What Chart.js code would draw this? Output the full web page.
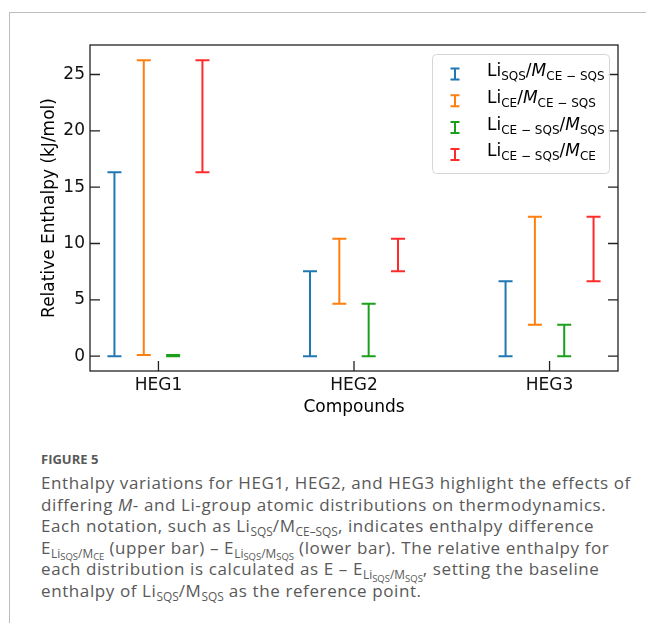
<!DOCTYPE html>
<html>
<head>
<meta charset="utf-8">
<script src="https://cdn.jsdelivr.net/npm/chart.js@4.4.1/dist/chart.umd.min.js"></script>
<style>
    html, body { margin: 0; padding: 0; background: #fff; }
    body { width: 646px; height: 623px; position: relative; overflow: hidden; }
    #frame { position: absolute; left: 9px; top: 12px; width: 640px; height: 620px;
             border-left: 1px solid #bdbdbd; border-top: 1px solid #bdbdbd; }
    #chartBox { position: absolute; left: 0; top: 0; width: 646px; height: 440px; }
    .cap { position: absolute; left: 41px; font-family: "Open Sans", sans-serif; color: #595959; white-space: nowrap; }
    #figNo { top: 450px; font-size: 13px; line-height: 18px; font-weight: 700; }
    #figText { top: 472px; font-size: 17px; line-height: 21.6px; letter-spacing: 0.6px; }
    .sb { font-size: 0.7em; position: relative; top: 0.32em; line-height: 0; letter-spacing: 0; }
    .sb .sb { font-size: 0.8em; top: 0.25em; }
    i { font-style: italic; }
</style>
</head>
<body>
<div id="frame"></div>
<div id="chartBox"><canvas id="enthalpyChart" width="646" height="440"></canvas></div>
<div class="cap" id="figNo">FIGURE 5</div>
<div class="cap" id="figText">
Enthalpy variations for HEG1, HEG2, and HEG3 highlight the effects of<br>
differing <i>M</i>- and Li-group atomic distributions on thermodynamics.<br>
Each notation, such as Li<span class="sb">SQS</span>/M<span class="sb">CE–SQS</span>, indicates enthalpy difference<br>
E<span class="sb">Li<span class="sb">SQS</span>/M<span class="sb">CE</span></span> (upper bar) – E<span class="sb">Li<span class="sb">SQS</span>/M<span class="sb">SQS</span></span> (lower bar). The relative enthalpy for<br>
each distribution is calculated as E – E<span class="sb">Li<span class="sb">SQS</span>/M<span class="sb">SQS</span></span>, setting the baseline<br>
enthalpy of Li<span class="sb">SQS</span>/M<span class="sb">SQS</span> as the reference point.
</div>
<script>
// values (kJ/mol)
const categories = ["HEG1", "HEG2", "HEG3"];
const yTicks = [0, 5, 10, 15, 20, 25];

const blueLow = [0, 0, 0];
const blueHigh = [16.33, 7.53, 6.64];
const orangeLow = [0.09, 4.65, 2.78];
const orangeHigh = [26.27, 10.41, 12.37];
const greenLow = [0, 0, 0];
const greenHigh = [0.09, 4.65, 2.78];
const redLow = [16.33, 7.53, 6.64];
const redHigh = [26.27, 10.41, 12.37];

// legend labels, as pieces: n = normal, i = italic, s = subscript
const labelBlue = [["Li", "n"], ["SQS", "s"], ["/", "n"], ["M", "i"], ["CE \u2212 SQS", "s"]];
const labelOrange = [["Li", "n"], ["CE", "s"], ["/", "n"], ["M", "i"], ["CE \u2212 SQS", "s"]];
const labelGreen = [["Li", "n"], ["CE \u2212 SQS", "s"], ["/", "n"], ["M", "i"], ["SQS", "s"]];
const labelRed = [["Li", "n"], ["CE \u2212 SQS", "s"], ["/", "n"], ["M", "i"], ["CE", "s"]];

const FONT = "'DejaVu Sans', sans-serif";
Chart.defaults.font.family = FONT;
Chart.defaults.font.size = 17;
Chart.defaults.color = "#111";

function makeSeries(label, color, offset, low, high, pieces) {
    return {
        label: label,
        data: high.map((v, i) => ({ x: i + offset, y: v })),
        lows: low,
        pieces: pieces,
        borderColor: color,
        backgroundColor: color,
        pointRadius: 0,
        showLine: false
    };
}

const errorBars = {
    id: "errorBars",
    afterDatasetsDraw(chart) {
        const ctx = chart.ctx;
        const yScale = chart.scales.y;
        const capHalf = 7;
        chart.data.datasets.forEach((ds, i) => {
            const meta = chart.getDatasetMeta(i);
            ctx.save();
            ctx.strokeStyle = ds.borderColor;
            ctx.lineWidth = 2;
            meta.data.forEach((pt, j) => {
                const top = pt.y;
                const bottom = yScale.getPixelForValue(ds.lows[j]);
                ctx.beginPath();
                ctx.moveTo(pt.x, top);
                ctx.lineTo(pt.x, bottom);
                ctx.moveTo(pt.x - capHalf, top);
                ctx.lineTo(pt.x + capHalf, top);
                ctx.moveTo(pt.x - capHalf, bottom);
                ctx.lineTo(pt.x + capHalf, bottom);
                ctx.stroke();
            });
            ctx.restore();
        });
    }
};

const frameAndTicks = {
    id: "frameAndTicks",
    afterDatasetsDraw(chart) {
        const ctx = chart.ctx;
        const a = chart.chartArea;
        const tickLen = 10;
        ctx.save();
        ctx.strokeStyle = "#222";
        ctx.lineWidth = 1.3;
        ctx.strokeRect(a.left, a.top, a.right - a.left, a.bottom - a.top);
        ctx.beginPath();
        yTicks.forEach(v => {
            const y = chart.scales.y.getPixelForValue(v);
            ctx.moveTo(a.left, y);
            ctx.lineTo(a.left + tickLen, y);
            ctx.moveTo(a.right, y);
            ctx.lineTo(a.right - tickLen, y);
        });
        categories.forEach((c, i) => {
            const x = chart.scales.x.getPixelForValue(i);
            ctx.moveTo(x, a.bottom);
            ctx.lineTo(x, a.bottom - tickLen);
        });
        ctx.stroke();
        ctx.restore();
    }
};

function drawPieces(ctx, pieces, x, y) {
    pieces.forEach(([txt, kind]) => {
        let dy = 0;
        if (kind === "s") {
            ctx.font = "12px " + FONT;
            dy = 4;
        } else if (kind === "i") {
            ctx.font = "italic 17px " + FONT;
        } else {
            ctx.font = "17px " + FONT;
        }
        ctx.fillText(txt, x, y + dy);
        x += ctx.measureText(txt).width;
    });
}

const mathLegend = {
    id: "mathLegend",
    afterDraw(chart) {
        const ctx = chart.ctx;
        const box = { x: 432, y: 54, w: 177, h: 119 };
        ctx.save();
        ctx.beginPath();
        ctx.roundRect(box.x + 0.5, box.y + 0.5, box.w, box.h, 4);
        ctx.fillStyle = "rgba(255,255,255,0.85)";
        ctx.fill();
        ctx.strokeStyle = "#d6d6d6";
        ctx.lineWidth = 1;
        ctx.stroke();

        chart.data.datasets.forEach((ds, i) => {
            const cy = 74 + i * 26.8;
            const mx = 455;
            ctx.strokeStyle = ds.borderColor;
            ctx.lineWidth = 2;
            ctx.beginPath();
            ctx.moveTo(mx, cy - 5.5);
            ctx.lineTo(mx, cy + 5.5);
            ctx.moveTo(mx - 4.5, cy - 5.5);
            ctx.lineTo(mx + 4.5, cy - 5.5);
            ctx.moveTo(mx - 4.5, cy + 5.5);
            ctx.lineTo(mx + 4.5, cy + 5.5);
            ctx.stroke();
            ctx.fillStyle = "#000";
            ctx.textBaseline = "alphabetic";
            drawPieces(ctx, ds.pieces, 487, cy + 2);
        });
        ctx.restore();
    }
};

const canvas = document.getElementById("enthalpyChart");
new Chart(canvas.getContext("2d"), {
    type: "scatter",
    data: {
        datasets: [
            makeSeries("LiSQS/MCE-SQS", "#1f77b4", -0.225, blueLow, blueHigh, labelBlue),
            makeSeries("LiCE/MCE-SQS", "#ff7f0e", -0.075, orangeLow, orangeHigh, labelOrange),
            makeSeries("LiCE-SQS/MSQS", "#1ca01c", 0.075, greenLow, greenHigh, labelGreen),
            makeSeries("LiCE-SQS/MCE", "#ff2b2b", 0.225, redLow, redHigh, labelRed)
        ]
    },
    options: {
        responsive: false,
        animation: false,
        layout: {
            padding: { left: 0, top: 45, right: 28, bottom: 0 }
        },
        plugins: {
            legend: { display: false },
            tooltip: { enabled: false }
        },
        scales: {
            x: {
                type: "linear",
                min: -0.35,
                max: 2.35,
                afterBuildTicks: s => { s.ticks = categories.map((c, i) => ({ value: i })); },
                afterFit: s => { s.height = 440 - 371; },
                ticks: {
                    callback: v => categories[v],
                    padding: 4,
                    maxRotation: 0,
                    color: "#111"
                },
                grid: { display: false, drawTicks: false },
                border: { display: false },
                title: {
                    display: true,
                    text: "Compounds",
                    color: "#000",
                    padding: { top: 0, bottom: 22 }
                }
            },
            y: {
                min: -1.32,
                max: 27.62,
                afterBuildTicks: s => { s.ticks = yTicks.map(v => ({ value: v })); },
                afterFit: s => { s.width = 90; },
                ticks: {
                    padding: 5,
                    color: "#111"
                },
                grid: { display: false, drawTicks: false },
                border: { display: false },
                title: {
                    display: true,
                    text: "Relative Enthalpy (kJ/mol)",
                    color: "#000",
                    padding: { top: 39, bottom: 0 }
                }
            }
        }
    },
    plugins: [errorBars, frameAndTicks, mathLegend]
});
</script>
</body>
</html>
